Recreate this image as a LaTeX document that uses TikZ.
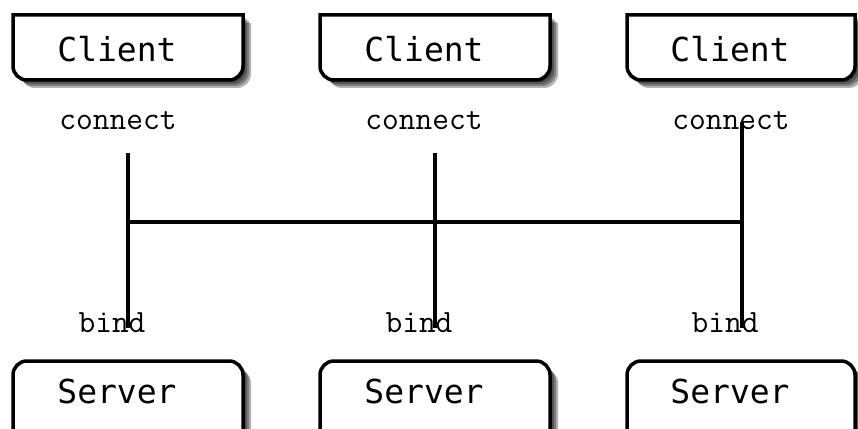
\documentclass[tikz,border=0pt]{standalone}
\usepackage{fontspec}
\newfontfamily\boxfont{DejaVu Sans Mono}
\newfontfamily\labfont{Latin Modern Mono}
\tikzset{
  boxline/.style={line width=3.5pt, fill=white, draw=black},
  shade layer/.style={fill=black, opacity=0.3, draw=none},
  wire/.style={line width=4pt, draw=black},
  boxtext/.style={font=\boxfont\fontsize{33}{36}\selectfont, anchor=base, inner sep=0pt},
  labtext/.style={font=\labfont\fontsize{32.5}{34}\selectfont, anchor=base, inner sep=0pt}
}
% client box: bottom corners rounded
\newcommand\clientshape[2]{% #1 left, #2 right
  (#1,413) -- (#1,362) arc[start angle=180,end angle=270,radius=14pt]
  -- ({#2-14},348) arc[start angle=270,end angle=360,radius=14pt] -- (#2,413) -- cycle}
% server box: top corners rounded
\newcommand\servershape[2]{%
  (#1,-30) -- (#1,53) arc[start angle=180,end angle=90,radius=14pt]
  -- ({#2-14},67) arc[start angle=90,end angle=0,radius=14pt] -- (#2,-30) -- cycle}
\newcommand\drawclient[2]{%
  \foreach \d in {2,4,6,8}{\fill[shade layer, xshift=\d pt, yshift=-\d pt] \clientshape{#1}{#2};}
  \draw[boxline] \clientshape{#1}{#2};}
\newcommand\drawserver[2]{%
  \foreach \d in {2,4,6,8}{\fill[shade layer, xshift=\d pt, yshift=-\d pt] \servershape{#1}{#2};}
  \draw[boxline] \servershape{#1}{#2};}
\begin{document}
\begin{tikzpicture}[x=1pt,y=1pt]
\useasboundingbox (0,0) rectangle (858,428);
\clip (0,0) rectangle (858,428);
\fill[white] (0,0) rectangle (858,428);
% boxes
\drawclient{13}{243}
\drawclient{320}{550}
\drawclient{627}{855}
\drawserver{13}{243}
\drawserver{320}{550}
\drawserver{627}{855}
% box texts
\node[boxtext] (c1) at (117,366) {Client};
\node[boxtext] (c2) at (424,366) {Client};
\node[boxtext] (c3) at (730,366) {Client};
\node[boxtext] (s1) at (117,25) {Server};
\node[boxtext] (s2) at (424,25) {Server};
\node[boxtext] (s3) at (730,25) {Server};
% labels
\node[labtext] (conn1) at (118,298) {connect};
\node[labtext] (conn2) at (424,298) {connect};
\node[labtext] (conn3) at (731,298) {connect};
\node[labtext] (bind1) at (112,95) {bind};
\node[labtext] (bind2) at (419,95) {bind};
\node[labtext] (bind3) at (725,95) {bind};
% connector end points
\coordinate (t1) at (128,275);
\coordinate (t2) at (435,275);
\coordinate (t3) at (742,306);
\coordinate (b1) at (128,100);
\coordinate (b2) at (435,100);
\coordinate (b3) at (742,100);
\coordinate (h1) at (128,206);
\coordinate (h3) at (742,206);
\draw[wire] (t1) -- (b1);
\draw[wire] (t2) -- (b2);
\draw[wire] (t3) -- (b3);
\draw[wire] (h1) -- (h3);
\end{tikzpicture}
\end{document}
